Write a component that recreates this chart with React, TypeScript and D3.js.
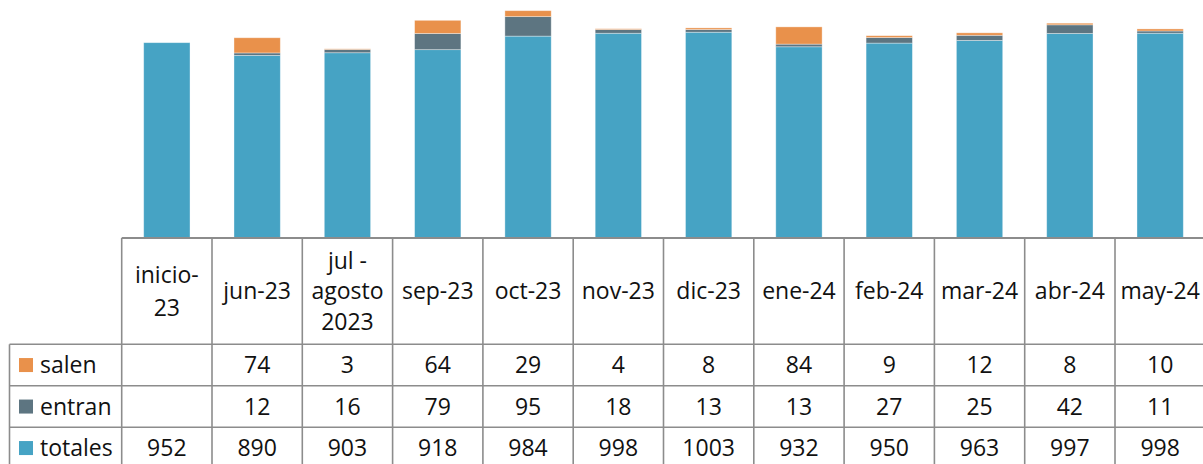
import React from "react";
import * as d3 from "d3";

const categories: string[] = [
  "inicio-\n23", "jun-23", "jul -\nagosto\n2023", "sep-23", "oct-23", "nov-23",
  "dic-23", "ene-24", "feb-24", "mar-24", "abr-24", "may-24",
];
const seriesNames = ["totales", "entran", "salen"];
const totales: (number | null)[] = [952, 890, 903, 918, 984, 998, 1003, 932, 950, 963, 997, 998];
const entran: (number | null)[] = [null, 12, 16, 79, 95, 18, 13, 13, 27, 25, 42, 11];
const salen: (number | null)[] = [null, 74, 3, 64, 29, 4, 8, 84, 9, 12, 8, 10];
const colors: Record<string, string> = { totales: "#46A3C4", entran: "#5D7581", salen: "#E9914B" };

const W = 1203, H = 464;
const tableLeft = 121.7;
const colStep = 90.3;
const legendLeft = 9.5;
const baseY = 238;
const headerBottom = 344.3;
const rowH = 41.5;
const FONT = "'Open Sans', sans-serif";
const FS = 23;

export default function App() {
  const x = d3.scaleBand<string>()
    .domain(categories)
    .range([tableLeft, tableLeft + colStep * categories.length])
    .paddingInner(0.487)
    .paddingOuter(0.2435);
  const y = d3.scaleLinear().domain([0, 1160]).range([baseY, 0]);

  const rows = categories.map((c, i) => ({
    cat: c,
    totales: totales[i] ?? 0,
    entran: entran[i] ?? 0,
    salen: salen[i] ?? 0,
  }));
  const stacked = d3.stack<any>().keys(seriesNames)(rows);

  const tableRows = [
    { name: "salen", vals: salen },
    { name: "entran", vals: entran },
    { name: "totales", vals: totales },
  ];
  const rightEdge = tableLeft + colStep * categories.length;
  const gridColor = "#8c8c8c";

  return (
    <svg width={W} height={H} style={{ position: "absolute", left: 0, top: 0, background: "#fff" }}>
      {stacked.map((layer) => (
        <g key={layer.key} fill={colors[layer.key]}>
          {layer.map((d, i) => {
            const h = y(d[0]) - y(d[1]);
            if (h <= 0) return null;
            return (
              <rect key={i} x={x(categories[i])!} width={x.bandwidth()} y={y(d[1])} height={h}
                stroke="#ffffff" strokeOpacity={0.45} strokeWidth={0.8} />
            );
          })}
        </g>
      ))}

      {/* table grid */}
      <line x1={tableLeft} x2={rightEdge} y1={baseY} y2={baseY} stroke="#8c8c8c" strokeWidth={2.2} />
      {categories.map((c, i) => (
        <line key={"v" + i} x1={tableLeft + i * colStep} x2={tableLeft + i * colStep} y1={baseY} y2={H}
          stroke={gridColor} strokeWidth={1.6} />
      ))}
      <line x1={rightEdge} x2={rightEdge} y1={baseY} y2={H} stroke={gridColor} strokeWidth={1.6} />
      <line x1={legendLeft} x2={legendLeft} y1={headerBottom} y2={H} stroke={gridColor} strokeWidth={1.6} />
      {[0, 1, 2].map((r) => (
        <line key={"h" + r} x1={legendLeft} x2={rightEdge} y1={headerBottom + r * rowH} y2={headerBottom + r * rowH}
          stroke={gridColor} strokeWidth={1.6} />
      ))}

      {/* header labels */}
      {categories.map((c, i) => {
        const lines = c.split("\n");
        const cx = tableLeft + (i + 0.5) * colStep;
        const cy = (baseY + headerBottom) / 2;
        const lh = lines.length === 3 ? 30.5 : 33;
        return (
          <text key={"c" + i} x={cx} textAnchor="middle" fontFamily={FONT} fontSize={FS} fill="#111">
            {lines.map((ln, j) => (
              <tspan key={j} x={cx} y={cy + (j - (lines.length - 1) / 2) * lh} dy="0.36em">{ln}</tspan>
            ))}
          </text>
        );
      })}

      {/* rows */}
      {tableRows.map((row, r) => {
        const cy = headerBottom + (r + 0.5) * rowH;
        return (
          <g key={row.name}>
            <rect x={19} y={cy - 7} width={14} height={14} fill={colors[row.name]} />
            <text x={40} y={cy} dy="0.36em" fontFamily={FONT} fontSize={FS} fill="#111">{row.name}</text>
            {row.vals.map((v, i) => v == null ? null : (
              <text key={i} x={tableLeft + (i + 0.5) * colStep} y={cy} dy="0.36em" textAnchor="middle"
                fontFamily={FONT} fontSize={FS} fill="#111">{v}</text>
            ))}
          </g>
        );
      })}
    </svg>
  );
}
